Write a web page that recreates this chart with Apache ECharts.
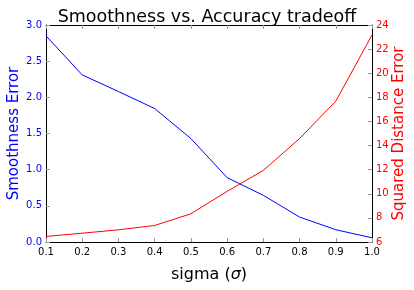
<!DOCTYPE html>
<html>
<head>
<meta charset="utf-8">
<script src="https://cdn.jsdelivr.net/npm/echarts@6/dist/echarts.min.js"></script>
<style>html,body{margin:0;padding:0;background:#fff;}#c{width:414px;height:290px;}</style>
</head>
<body>
<div id="c"></div>
<script>
var sigma = [0.1, 0.2, 0.3, 0.4, 0.5, 0.6, 0.7, 0.8, 0.9, 1.0];
var smoothnessError = [2.85, 2.31, 2.08, 1.845, 1.43, 0.89, 0.645, 0.345, 0.17, 0.058];
var squaredDistanceError = [6.46, 6.73, 7.01, 7.37, 8.34, 10.2, 11.94, 14.58, 17.68, 23.17];

var FONT = 'DejaVu Sans';
var chart = echarts.init(document.getElementById('c'), null, {renderer: 'canvas'});
function pairs(xs, ys) { return xs.map(function (x, i) { return [x, ys[i]]; }); }
var tick = {show: true, inside: true, length: 4, lineStyle: {color: '#999', width: 1}};
var frame = {show: true, onZero: false, lineStyle: {color: '#000', width: 1}};
chart.setOption({
  animation: false,
  backgroundColor: '#fff',
  title: {
    text: 'Smoothness vs. Accuracy tradeoff',
    left: 'center', top: 3,
    textStyle: {fontFamily: FONT, fontSize: 17.5, fontWeight: 'normal', color: '#000'}
  },
  grid: {left: 46, right: 42, top: 25, bottom: 48, containLabel: false, outerBoundsMode: 'none'},
  xAxis: [{
    type: 'value', min: 0.1, max: 1.0, interval: 0.1, position: 'bottom',
    axisLine: frame, axisTick: tick, splitLine: {show: false},
    axisLabel: {fontFamily: FONT, fontSize: 10, color: '#000', margin: 5,
      formatter: function (v) { return v.toFixed(1); }},
    name: '{a|sigma (}{b|σ}{a|)}', nameLocation: 'middle', nameGap: 25, nameMoveOverlap: false,
    nameTextStyle: {rich: {
      a: {fontFamily: FONT, fontSize: 16, color: '#000'},
      b: {fontFamily: FONT, fontSize: 16, fontStyle: 'italic', color: '#000'}
    }}
  }, {
    type: 'value', min: 0.1, max: 1.0, interval: 0.1, position: 'top',
    axisLine: frame, axisTick: tick, splitLine: {show: false},
    axisLabel: {show: false}
  }],
  yAxis: [{
    type: 'value', min: 0, max: 3, interval: 0.5, position: 'left',
    axisLine: frame, axisTick: tick, splitLine: {show: false},
    axisLabel: {fontFamily: FONT, fontSize: 10, color: '#0000ff', margin: 4,
      formatter: function (v) { return v.toFixed(1); }},
    name: 'Smoothness Error', nameLocation: 'middle', nameRotate: 90, nameGap: 24, nameMoveOverlap: false,
    nameTextStyle: {fontFamily: FONT, fontSize: 15, color: '#0000ff'}
  }, {
    type: 'value', min: 6, max: 24, interval: 2, position: 'right',
    axisLine: frame, axisTick: tick, splitLine: {show: false},
    axisLabel: {fontFamily: FONT, fontSize: 10, color: '#ff0000', margin: 4},
    name: 'Squared Distance Error', nameLocation: 'middle', nameRotate: 90, nameGap: 20, nameMoveOverlap: false,
    nameTextStyle: {fontFamily: FONT, fontSize: 15, color: '#ff0000'}
  }],
  series: [{
    type: 'line', xAxisIndex: 0, yAxisIndex: 0, data: pairs(sigma, smoothnessError),
    showSymbol: false, symbol: 'none', lineStyle: {color: '#0000ff', width: 1}, itemStyle: {color: '#0000ff'}
  }, {
    type: 'line', xAxisIndex: 0, yAxisIndex: 1, data: pairs(sigma, squaredDistanceError),
    showSymbol: false, symbol: 'none', lineStyle: {color: '#ff0000', width: 1}, itemStyle: {color: '#ff0000'}
  }]
});
</script>
</body>
</html>
